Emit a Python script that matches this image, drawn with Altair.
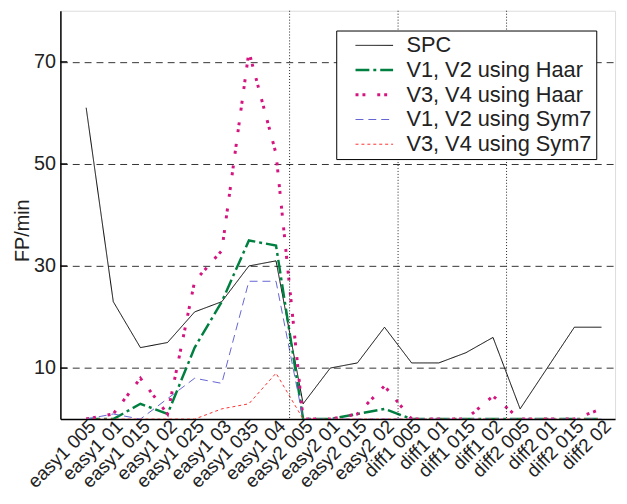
import altair as alt
import pandas as pd

names = ["easy1 005", "easy1 01", "easy1 015", "easy1 02", "easy1 025", "easy1 03",
         "easy1 035", "easy1 04", "easy2 005", "easy2 01", "easy2 015", "easy2 02",
         "diff1 005", "diff1 01", "diff1 015", "diff1 02", "diff2 005", "diff2 01",
         "diff2 015", "diff2 02"]

series_names = ["SPC", "V1, V2 using Haar", "V3, V4 using Haar",
                "V1, V2 using Sym7", "V3, V4 using Sym7"]

spc      = [61, 23, 14, 15, 21, 23, 30, 31, 3, 10, 11, 18, 11, 11, 13, 16, 2, 10, 18, 18]
v12_haar = [0, 0, 3, 1, 14, 23, 35, 34, 0, 0, 1, 2, 0, 0, 0, 0, 0, 0, 0, 0]
v34_haar = [0, 1, 8, 1, 27, 33, 72, 52, 0, 0, 1, 6.5, 0, 0, 0, 4.5, 0, 0, 0, 2]
v12_sym7 = [0, 1, 0, 4, 8, 7, 27, 27, 0, 0, 0, 0, 0, 0, 0, 0, 0, 0, 0, 0]
v34_sym7 = [0, 0, 0, 0, 0, 2, 3, 9, 0, 0, 0, 0, 0, 0, 0, 0, 0, 0, 0, 0]

separators = [7.5, 11.5, 15.5]
y_ticks = [10, 30, 50, 70]

colors = ["#000000", "#008040", "#d4147f", "#6464d2", "#ff3030"]
dashes = [[1, 0], [14, 4, 3, 4], [3, 4, 3, 12], [8, 5], [3, 3]]
widths = [1, 2.5, 3, 1, 1]

rows = []
for s, vals in zip(series_names, [spc, v12_haar, v34_haar, v12_sym7, v34_sym7]):
    for i, v in enumerate(vals):
        rows.append({"series": s, "idx": i, "value": v})
df = pd.DataFrame(rows)

FONT = "Liberation Sans"
label_expr = "[" + ",".join("'%s'" % n for n in names) + "][datum.value]"

xscale = alt.Scale(domain=[-0.95, 19.5], nice=False, zero=False)
yscale = alt.Scale(domain=[0, 80], nice=False)

x_axis = alt.Axis(values=list(range(20)), labelExpr=label_expr, labelAngle=-45,
                  labelAlign="right", labelBaseline="middle", labelPadding=4,
                  labelOffset=6, ticks=False, grid=False, title=None,
                  domainColor="#000", domainWidth=1.5, labelFont=FONT,
                  labelFontSize=19, labelColor="#222", labelOverlap=False,
                  labelBound=False, labelFlush=False, labelSeparation=0)
y_axis = alt.Axis(values=y_ticks, ticks=False, grid=True, gridDash=[7, 5],
                  gridColor="#333", gridWidth=1, domainColor="#000", domainWidth=1.5,
                  labelFont=FONT, labelFontSize=20, labelColor="#222", labelPadding=5,
                  title="FP/min", titleFont=FONT, titleFontSize=20,
                  titleFontWeight="normal", titleColor="#222", titleX=-38, titleY=222,
                  titleAlign="center", titleBaseline="middle", titleAngle=-90)

lines = alt.Chart(df).mark_line(clip=True).encode(
    x=alt.X("idx:Q", scale=xscale, axis=x_axis),
    y=alt.Y("value:Q", scale=yscale, axis=y_axis),
    color=alt.Color("series:N", scale=alt.Scale(domain=series_names, range=colors),
                    legend=alt.Legend(title=None, orient="none", legendX=279, legendY=20,
                                      symbolType="M-2,0L2,0", symbolSize=361,
                                      labelFont=FONT, labelFontSize=22, labelColor="#222",
                                      labelOffset=21.5, labelLimit=400, padding=4,
                                      symbolOffset=23.5, rowPadding=3,
                                      strokeColor="#000", fillColor="#fff")),
    strokeDash=alt.StrokeDash("series:N",
                              scale=alt.Scale(type="ordinal", domain=series_names, range=dashes),
                              legend=alt.Legend(title=None)),
    strokeWidth=alt.StrokeWidth("series:N",
                                scale=alt.Scale(type="ordinal", domain=series_names, range=widths),
                                legend=alt.Legend(title=None)),
    order=alt.Order("idx:Q"),
)

sep_df = pd.DataFrame({"x": separators})
seps = alt.Chart(sep_df).mark_rule(color="#222", strokeDash=[1, 2], strokeWidth=1).encode(
    x=alt.X("x:Q", scale=xscale, axis=x_axis)
)

tick_df = pd.DataFrame({"y": y_ticks})
ticks = alt.Chart(tick_df).mark_rule(color="#000", strokeWidth=1.2).encode(
    y=alt.Y("y:Q", scale=yscale, axis=y_axis),
    x=alt.value(0), x2=alt.value(7)
)

chart = alt.layer(lines, seps, ticks).properties(
    width=561, height=413,
    autosize=alt.AutoSizeParams(type="none"),
    padding={"left": 53, "top": 0, "right": 4, "bottom": 74},
).configure_view(stroke=None).configure(background="white").configure_axis(labelOverlap=False)

chart.save("out.html", embed_options={"renderer": "svg", "actions": False})
